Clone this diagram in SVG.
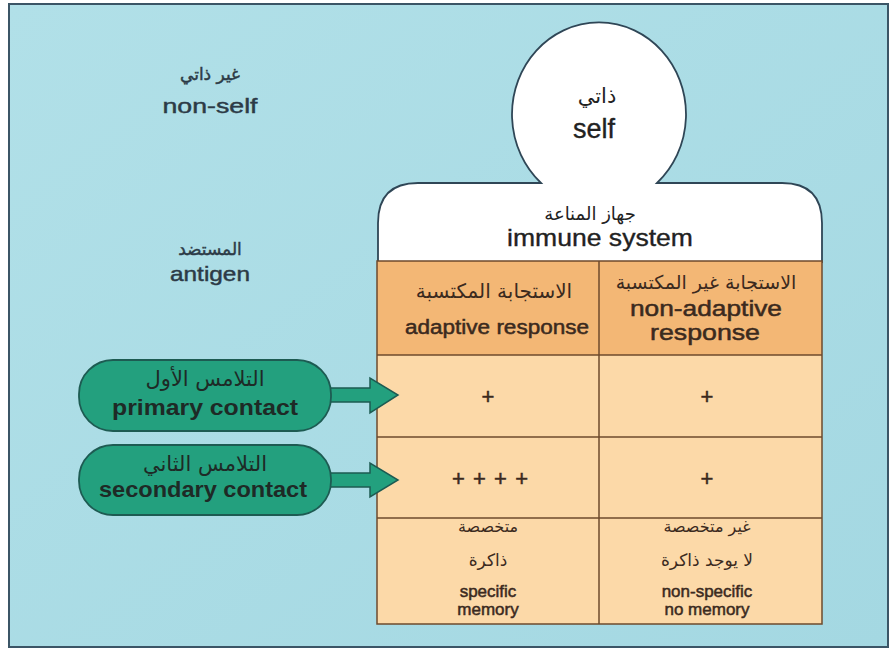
<svg xmlns="http://www.w3.org/2000/svg" width="892" height="651" viewBox="0 0 892 651">
<defs>
<linearGradient id="bg" x1="0" y1="0" x2="1" y2="1">
<stop offset="0" stop-color="#b1e0e8"/>
<stop offset="1" stop-color="#a4d8e2"/>
</linearGradient>
<style>
.lat{font-family:"Liberation Sans",Arial,sans-serif;text-anchor:middle}
.ar{font-family:"DejaVu Sans","Noto Sans",sans-serif;text-anchor:middle}
.blue{fill:#2c3a46;stroke:#2c3a46;stroke-width:0.45}
.brown{fill:#3b2a1e}
.lat.brown{stroke:#3b2a1e;stroke-width:0.5}
.dark{fill:#222;stroke:#222;stroke-width:0.35}
.line{stroke:#6e4a2c;stroke-width:1.5;fill:none}
.pill{fill:#23a07e;stroke:#1d5b52;stroke-width:1.8}
.arrow{fill:#23a07e;stroke:#1d5b52;stroke-width:1.5;stroke-linejoin:miter}
.gtxt{fill:#1e2a26}
</style>
</defs>
<rect x="0" y="0" width="892" height="651" fill="#ffffff"/>
<rect x="9" y="4" width="879" height="643" fill="url(#bg)" stroke="#3b5566" stroke-width="2"/>

<g id="nonself">
<text class="ar blue" x="210" y="80" font-size="17" stroke-width="0">غير ذاتي</text>
<text class="lat blue" x="210" y="113" font-size="21" textLength="95" lengthAdjust="spacingAndGlyphs">non-self</text>
</g>

<g id="antigen">
<text class="ar blue" x="210" y="255" font-size="17" stroke-width="0">المستضد</text>
<text class="lat blue" x="210" y="281" font-size="21" textLength="80" lengthAdjust="spacingAndGlyphs">antigen</text>
</g>

<g id="immune-system">
<path d="M378,262 L378,223 Q378,183 418,183 L541,183 A87,92 0 1 1 657,183 L782,183 Q822,183 822,223 L822,262 Z" fill="#ffffff" stroke="#2f4656" stroke-width="1.8"/>
<text class="ar" x="597" y="103" font-size="21" fill="#222">ذاتي</text>
<text class="lat dark" x="594" y="138" font-size="27">self</text>
<text class="ar" x="590" y="220" font-size="18" fill="#222">جهاز المناعة</text>
<text class="lat dark" x="600" y="246" font-size="24" textLength="186" lengthAdjust="spacingAndGlyphs">immune system</text>
</g>

<g id="table">
<rect x="377" y="261" width="445" height="94" fill="#f3b775"/>
<rect x="377" y="355" width="445" height="269" fill="#fcd9a8"/>
<rect x="377" y="261" width="445" height="363" class="line"/>
<line x1="599" y1="261" x2="599" y2="624" class="line"/>
<line x1="377" y1="355" x2="822" y2="355" class="line"/>
<line x1="377" y1="437" x2="822" y2="437" class="line"/>
<line x1="377" y1="518" x2="822" y2="518" class="line"/>
</g>

<g id="adaptive-header">
<text class="ar brown" x="494" y="298" font-size="20">الاستجابة المكتسبة</text>
<text class="lat brown" x="497" y="334" font-size="20" textLength="184" lengthAdjust="spacingAndGlyphs">adaptive response</text>
</g>

<g id="nonadaptive-header">
<text class="ar brown" x="706" y="289" font-size="19">الاستجابة غير المكتسبة</text>
<text class="lat brown" x="706" y="316" font-size="22" textLength="152" lengthAdjust="spacingAndGlyphs">non-adaptive</text>
<text class="lat brown" x="705" y="340" font-size="22" textLength="110" lengthAdjust="spacingAndGlyphs">response</text>
</g>

<g id="primary-values">
<text class="lat brown" x="488" y="404" font-size="22">+</text>
<text class="lat brown" x="707" y="404" font-size="22">+</text>
</g>

<g id="secondary-values">
<text class="lat brown" x="490" y="486" font-size="22" textLength="76" lengthAdjust="spacing">++++</text>
<text class="lat brown" x="707" y="486" font-size="22">+</text>
</g>

<g id="adaptive-properties">
<text class="ar brown" x="488" y="532" font-size="16">متخصصة</text>
<text class="ar brown" x="488" y="566" font-size="17">ذاكرة</text>
<text class="lat brown" x="488" y="597" font-size="17">specific</text>
<text class="lat brown" x="488" y="615" font-size="17">memory</text>
</g>

<g id="nonadaptive-properties">
<text class="ar brown" x="707" y="532" font-size="16">غير متخصصة</text>
<text class="ar brown" x="707" y="566" font-size="17">لا يوجد ذاكرة</text>
<text class="lat brown" x="707" y="597" font-size="17">non-specific</text>
<text class="lat brown" x="707" y="615" font-size="17">no memory</text>
</g>

<g id="connectors">
<path class="arrow" d="M326,388 L370,388 L370,378 L398,395 L370,413 L370,402 L326,402 Z"/>
<path class="arrow" d="M326,473 L370,473 L370,463 L398,480 L370,497 L370,487 L326,487 Z"/>
</g>

<g id="primary-contact">
<rect x="79" y="360" width="252" height="71" rx="34" ry="34" class="pill"/>
<text class="ar gtxt" x="205" y="386" font-size="21">التلامس الأول</text>
<text class="lat gtxt" x="205" y="415" font-size="22" font-weight="bold" textLength="186" lengthAdjust="spacingAndGlyphs">primary contact</text>
</g>

<g id="secondary-contact">
<rect x="79" y="445" width="252" height="70" rx="34" ry="34" class="pill"/>
<text class="ar gtxt" x="205" y="471" font-size="21">التلامس الثاني</text>
<text class="lat gtxt" x="203" y="497" font-size="22" font-weight="bold" textLength="208" lengthAdjust="spacingAndGlyphs">secondary contact</text>
</g>
</svg>
